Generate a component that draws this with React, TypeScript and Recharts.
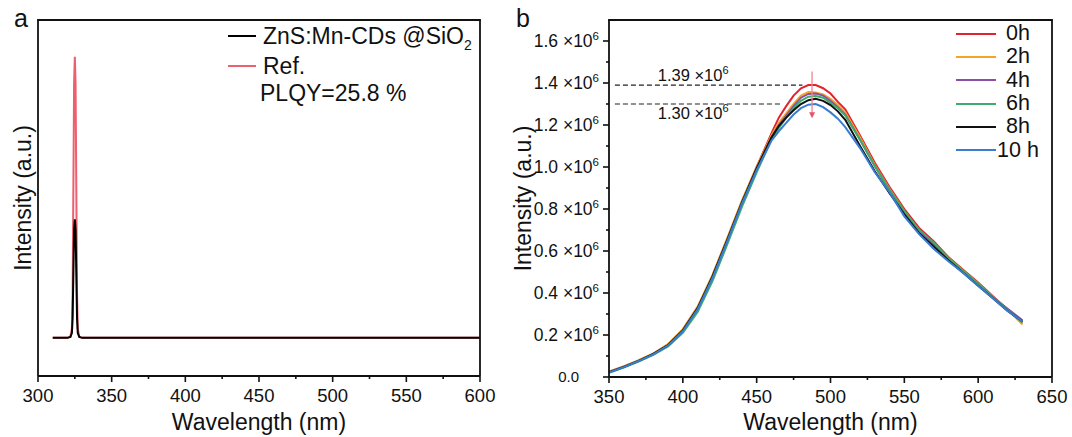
import React from "react";
import {
  LineChart,
  Line,
  XAxis,
  YAxis,
  Legend,
  ReferenceLine,
  ReferenceDot,
} from "recharts";

const FONT = "'Liberation Sans', Arial, Helvetica, sans-serif";
const INK = "#111";
const TICK_SIZE = 6;
const TICK_MARGIN = 2;

// layout of the two panels (px)
const TOP = 20;
const RIGHT_PAD = 19;
const PANEL_A = { left: 0, width: 500, yAxisWidth: 38 };
const PANEL_B = { left: 500, width: 572, yAxisWidth: 109 };

// (a) excitation scatter of sample vs. reference
const waveA = [310, 320, 322, 323, 323.5, 324, 324.5, 325, 325.5, 326, 326.5, 327, 328, 330, 600];
const sampleA = [0, 0, 0.003, 0.015, 0.06, 0.2, 0.34, 0.373, 0.34, 0.2, 0.06, 0.015, 0.003, 0, 0];
const refA = [0, 0, 0.004, 0.03, 0.14, 0.47, 0.8, 0.884, 0.8, 0.47, 0.14, 0.03, 0.004, 0, 0];
const ticksA = [300, 325, 350, 375, 400, 425, 450, 475, 500, 525, 550, 575, 600];
const rangeA: [number, number] = [300, 600];
const domainA: [number, number] = [-0.12, 1];
const plqyText = "PLQY=25.8 %";

// (b) emission spectra after n hours (x10^6 counts)
const waveB = [
  350, 360, 370, 380, 390, 400, 410, 420, 430, 440, 450, 460,
  465, 470, 475, 480, 485, 490, 495, 500, 505, 510,
  520, 530, 540, 550, 560, 570, 580, 590, 600, 610, 620, 630,
];
const h0 = [
  0.025, 0.05, 0.078, 0.11, 0.155, 0.225, 0.33, 0.48, 0.655, 0.835, 1.0, 1.16,
  1.235, 1.29, 1.34, 1.375, 1.39, 1.39, 1.375, 1.35, 1.31, 1.275,
  1.15, 1.02, 0.905, 0.8, 0.71, 0.645, 0.57, 0.51, 0.45, 0.385, 0.32, 0.26,
];
const h2 = [
  0.025, 0.05, 0.08, 0.112, 0.157, 0.228, 0.335, 0.485, 0.66, 0.84, 1.0, 1.15,
  1.21, 1.255, 1.3, 1.34, 1.357, 1.355, 1.345, 1.325, 1.295, 1.26,
  1.14, 1.01, 0.895, 0.79, 0.7, 0.635, 0.565, 0.505, 0.445, 0.38, 0.32, 0.25,
];
const h4 = [
  0.022, 0.047, 0.076, 0.108, 0.15, 0.218, 0.322, 0.47, 0.645, 0.825, 0.99, 1.14,
  1.2, 1.245, 1.29, 1.33, 1.348, 1.35, 1.34, 1.315, 1.285, 1.25,
  1.13, 1.005, 0.89, 0.785, 0.695, 0.63, 0.56, 0.5, 0.44, 0.38, 0.325, 0.27,
];
const h6 = [
  0.02, 0.045, 0.074, 0.105, 0.145, 0.21, 0.31, 0.455, 0.63, 0.81, 0.975, 1.13,
  1.185, 1.235, 1.28, 1.315, 1.335, 1.338, 1.33, 1.305, 1.28, 1.245,
  1.13, 1.005, 0.89, 0.79, 0.7, 0.64, 0.565, 0.505, 0.445, 0.38, 0.32, 0.26,
];
const h8 = [
  0.023, 0.048, 0.077, 0.11, 0.152, 0.222, 0.328, 0.478, 0.652, 0.832, 0.995, 1.14,
  1.195, 1.235, 1.27, 1.3, 1.318, 1.325, 1.315, 1.295, 1.265, 1.225,
  1.1, 0.98, 0.875, 0.775, 0.685, 0.62, 0.555, 0.495, 0.435, 0.375, 0.315, 0.265,
];
const h10 = [
  0.022, 0.047, 0.076, 0.108, 0.15, 0.218, 0.322, 0.47, 0.645, 0.825, 0.985, 1.125,
  1.17, 1.21, 1.25, 1.28, 1.297, 1.3, 1.285, 1.26, 1.23, 1.19,
  1.09, 0.975, 0.88, 0.765, 0.68, 0.61, 0.55, 0.495, 0.435, 0.375, 0.315, 0.265,
];
const seriesB = [
  { key: "h0", name: "0h", color: "#e2232e", values: h0 },
  { key: "h2", name: "2h", color: "#f4a427", values: h2 },
  { key: "h4", name: "4h", color: "#8b4fa3", values: h4 },
  { key: "h6", name: "6h", color: "#3eaa6d", values: h6 },
  { key: "h8", name: "8h", color: "#111111", values: h8 },
  { key: "h10", name: "10 h", color: "#3a7dd0", values: h10 },
];
const ticksBx = [350, 375, 400, 425, 450, 475, 500, 525, 550, 575, 600, 625, 650];
const ticksBy = [0, 0.1, 0.2, 0.3, 0.4, 0.5, 0.6, 0.7, 0.8, 0.9, 1.0, 1.1, 1.2, 1.3, 1.4, 1.5, 1.6];
const rangeB: [number, number] = [350, 650];
const domainB: [number, number] = [0, 1.7];

const peakHigh = Math.max(...h0);
const peakLow = Math.max(...h10);

const rowsA = waveA.map((w, i) => ({ w, sample: sampleA[i], ref: refA[i] }));
const rowsB = waveB.map((w, i) => {
  const row: any = { w };
  seriesB.forEach((s) => (row[s.key] = s.values[i]));
  return row;
});

const axisStroke = { stroke: INK, strokeWidth: 1.8 };

// bottom ticks: long on the labelled 50 nm marks, short in between
const BottomTick = (props: any) => {
  const { x, y, payload } = props;
  const axisY = y - TICK_SIZE - TICK_MARGIN;
  const major = payload.value % 50 === 0;
  return (
    <g>
      <line x1={x} x2={x} y1={axisY} y2={axisY + (major ? 6 : 3)} stroke={INK} strokeWidth={1.6} />
      {major && (
        <text x={x} y={axisY + 19} dy="0.36em" textAnchor="middle" fontSize={18.5} fontFamily={FONT} fill={INK}>
          {payload.value}
        </text>
      )}
    </g>
  );
};

const LeftTickB = (props: any) => {
  const { x, y, payload } = props;
  const axisX = x + TICK_SIZE + TICK_MARGIN;
  const v = payload.value;
  const major = Math.round(v * 10) % 2 === 0;
  return (
    <g>
      <line x1={axisX - (major ? 6 : 3)} x2={axisX} y1={y} y2={y} stroke={INK} strokeWidth={1.6} />
      {major && v === 0 && (
        <text x={axisX - 30} y={y} dy="0.36em" textAnchor="end" fontSize={15} fontFamily={FONT} fill={INK}>
          0.0
        </text>
      )}
      {major && v !== 0 && (
        <text x={axisX - 10} y={y} dy="0.36em" textAnchor="end" fontSize={17.5} fontFamily={FONT} fill={INK}>
          {`${v.toFixed(1)} ×10`}
          <tspan dy={-7} fontSize={11.5}>6</tspan>
        </text>
      )}
    </g>
  );
};

const xTitle = (props: any) => {
  const vb = props.viewBox || {};
  return (
    <text x={vb.x + vb.width / 2} y={430} textAnchor="middle" fontSize={23} fontFamily={FONT} fill={INK}>
      Wavelength (nm)
    </text>
  );
};

const yTitle = (props: any) => {
  const vb = props.viewBox || {};
  const cx = 31;
  const cy = vb.y + vb.height / 2;
  return (
    <text x={cx} y={cy} transform={`rotate(-90 ${cx} ${cy})`} textAnchor="middle" fontSize={23} fontFamily={FONT} fill={INK}>
      Intensity (a.u.)
    </text>
  );
};

const swatch = (color: string, width: number) => (
  <span style={{ display: "inline-block", width, height: 2, background: color }} />
);

const LegendA = () => (
  <div style={{ fontFamily: FONT, fontSize: 23, color: INK }}>
    <div style={{ display: "flex", alignItems: "center", height: 30 }}>
      {swatch("#000", 28)}
      <span style={{ marginLeft: 7, whiteSpace: "nowrap" }}>
        ZnS:Mn-CDs @SiO<span style={{ fontSize: 14, position: "relative", top: 6 }}>2</span>
      </span>
    </div>
    <div style={{ display: "flex", alignItems: "center", height: 30 }}>
      {swatch("#ec5f6e", 28)}
      <span style={{ marginLeft: 7 }}>Ref.</span>
    </div>
    <div style={{ height: 25, lineHeight: "25px", paddingLeft: 32 }}>{plqyText}</div>
  </div>
);

const LegendB = () => (
  <div style={{ fontFamily: FONT, fontSize: 21.5, color: INK }}>
    {seriesB.map((s) => (
      <div key={s.key} style={{ display: "flex", alignItems: "center", height: 23.3 }}>
        {swatch(s.color, 40)}
        <span style={{ width: 44, textAlign: "center", lineHeight: "23px" }}>{s.name}</span>
      </div>
    ))}
  </div>
);

const DownArrow = (p: any) => {
  const { x1, y1, x2, y2 } = p;
  return (
    <g>
      <line x1={x1} y1={y1} x2={x2} y2={y2 - 5} stroke="#f08391" strokeWidth={1.3} />
      <path d={`M${x2 - 3},${y2 - 6} L${x2 + 3},${y2 - 6} L${x2},${y2} Z`} fill="#e8536a" />
    </g>
  );
};

const peakLabel = (value: number, dy: number) => (p: any) => (
  <text x={p.cx} y={p.cy + dy} fontSize={16.5} fontFamily={FONT} fill={INK}>
    {`${value.toFixed(2)} ×10`}
    <tspan dy={-7} fontSize={11}>6</tspan>
  </text>
);

function PanelA() {
  return (
    <LineChart width={PANEL_A.width} height={437} data={rowsA} margin={{ top: TOP, right: RIGHT_PAD, bottom: 0, left: 0 }}>
      <XAxis
        dataKey="w"
        type="number"
        domain={rangeA}
        ticks={ticksA}
        interval={0}
        tick={BottomTick}
        tickLine={false}
        tickSize={TICK_SIZE}
        tickMargin={TICK_MARGIN}
        height={61}
        axisLine={axisStroke}
        label={xTitle}
      />
      <YAxis type="number" domain={domainA} tick={false} tickLine={false} width={PANEL_A.yAxisWidth} axisLine={axisStroke} label={yTitle} />
      <YAxis yAxisId="right" orientation="right" type="number" domain={domainA} tick={false} tickLine={false} width={1} axisLine={axisStroke} />
      <Line dataKey="ref" type="linear" stroke="#ec5f6e" strokeWidth={2} dot={false} isAnimationActive={false} />
      <Line dataKey="sample" type="linear" stroke="#000" strokeWidth={2} dot={false} isAnimationActive={false} />
      <Legend
        layout="vertical"
        align="center"
        verticalAlign="middle"
        wrapperStyle={{ left: 228, top: 21, width: 265 }}
        content={LegendA}
      />
    </LineChart>
  );
}

function PanelB() {
  return (
    <LineChart width={PANEL_B.width} height={437} data={rowsB} margin={{ top: TOP, right: RIGHT_PAD, bottom: 0, left: 0 }}>
      <XAxis
        dataKey="w"
        type="number"
        domain={rangeB}
        ticks={ticksBx}
        interval={0}
        tick={BottomTick}
        tickLine={false}
        tickSize={TICK_SIZE}
        tickMargin={TICK_MARGIN}
        height={60}
        axisLine={axisStroke}
        label={xTitle}
      />
      <YAxis
        type="number"
        domain={domainB}
        ticks={ticksBy}
        interval={0}
        tick={LeftTickB}
        tickLine={false}
        tickSize={TICK_SIZE}
        tickMargin={TICK_MARGIN}
        width={PANEL_B.yAxisWidth}
        axisLine={axisStroke}
        label={yTitle}
      />
      <YAxis yAxisId="right" orientation="right" type="number" domain={domainB} tick={false} tickLine={false} width={1} axisLine={axisStroke} />
      <ReferenceLine
        segment={[{ x: 354, y: peakHigh }, { x: 481, y: peakHigh }]}
        stroke="#222"
        strokeWidth={1.2}
        strokeDasharray="5 3"
      />
      <ReferenceLine
        segment={[{ x: 354, y: peakLow }, { x: 466, y: peakLow }]}
        stroke="#222"
        strokeWidth={1.2}
        strokeDasharray="5 3"
      />
      <ReferenceDot x={383} y={peakHigh} r={0} shape={peakLabel(peakHigh, -4)} />
      <ReferenceDot x={383} y={peakLow} r={0} shape={peakLabel(peakLow, 15)} />
      {seriesB.map((s) => (
        <Line
          key={s.key}
          dataKey={s.key}
          name={s.name}
          type="linear"
          stroke={s.color}
          strokeWidth={2}
          dot={false}
          isAnimationActive={false}
        />
      ))}
      <ReferenceLine segment={[{ x: 487.5, y: 1.455 }, { x: 487.5, y: 1.232 }]} shape={DownArrow} />
      <Legend
        layout="vertical"
        align="center"
        verticalAlign="middle"
        wrapperStyle={{ left: 456, top: 22, width: 90 }}
        content={LegendB}
      />
    </LineChart>
  );
}

// top edge of each plot box, from the panel layout
const topEdge = (p: { left: number; width: number; yAxisWidth: number }) => (
  <line
    x1={p.left + p.yAxisWidth - 0.9}
    x2={p.left + p.width - RIGHT_PAD - 1 + 0.9}
    y1={TOP}
    y2={TOP}
    stroke={INK}
    strokeWidth={1.8}
  />
);

export default function App() {
  return (
    <div style={{ position: "absolute", left: 0, top: 0, width: 1072, height: 437, background: "#fff", fontFamily: FONT }}>
      <div style={{ position: "absolute", left: PANEL_A.left, top: 0 }}>
        <PanelA />
      </div>
      <div style={{ position: "absolute", left: PANEL_B.left, top: 0 }}>
        <PanelB />
      </div>
      <svg width={1072} height={437} style={{ position: "absolute", left: 0, top: 0, pointerEvents: "none" }}>
        {topEdge(PANEL_A)}
        {topEdge(PANEL_B)}
        <text x={14} y={27} fontSize={25} fontFamily={FONT} fill={INK}>a</text>
        <text x={516} y={27} fontSize={25} fontFamily={FONT} fill={INK}>b</text>
      </svg>
    </div>
  );
}
